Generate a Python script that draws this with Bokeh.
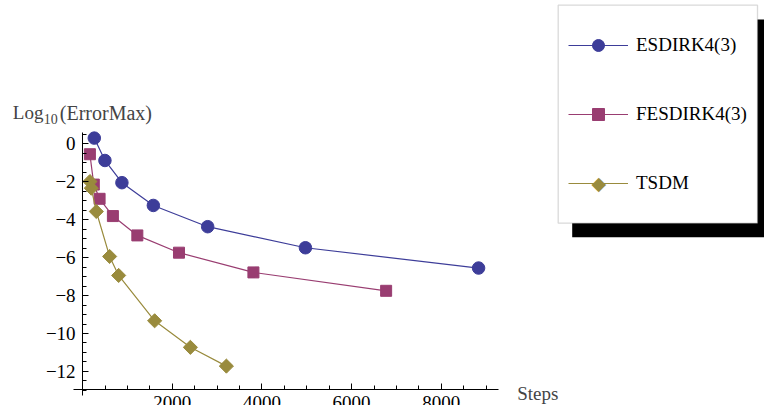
from bokeh.plotting import figure
from bokeh.models import (Range1d, LinearAxis, Legend, LegendItem, Label, BoxAnnotation,
                          FixedTicker, CustomJSTickFormatter)
from bokeh.embed import file_html
from bokeh.resources import INLINE

# Work (steps) versus log10 of the maximum error for three integrators
esdirk_steps = [261, 498, 877, 1578, 2790, 4970, 8832]
esdirk_err = [0.30, -0.88, -2.05, -3.25, -4.37, -5.48, -6.55]

fesdirk_steps = [163, 250, 379, 676, 1221, 2150, 3810, 6770]
fesdirk_err = [-0.55, -2.15, -2.90, -3.81, -4.83, -5.74, -6.78, -7.75]

tsdm_steps = [163, 194, 306, 603, 804, 1607, 2404, 3207]
tsdm_err = [-1.99, -2.34, -3.57, -5.94, -6.94, -9.33, -10.73, -11.72]

x_major = [2000, 4000, 6000, 8000]
x_minor = list(range(500, 9500, 500))
y_major = [-12, -10, -8, -6, -4, -2, 0]
y_minor = [v / 2 for v in range(-26, 2)]

BLUE = "#3d3d99"
MAGENTA = "#993d71"
OLIVE = "#998b3d"
SERIF = "Liberation Serif"

# the frame fills the whole canvas; axes sit at fixed data positions
p = figure(width=764, height=405,
           x_range=Range1d(-1831, 15209), y_range=Range1d(-13.796, 7.554),
           x_axis_type=None, y_axis_type=None,
           min_border=0,
           toolbar_location=None, output_backend="svg",
           outline_line_color=None, background_fill_color="white")

minus_fmt = CustomJSTickFormatter(code="return tick < 0 ? '\\u2212' + (-tick) : String(tick)")


def style_axis(ax):
    ax.axis_line_color = "black"
    ax.axis_line_width = 1
    ax.major_tick_line_color = "black"
    ax.minor_tick_line_color = "black"
    ax.major_tick_in = 6
    ax.major_tick_out = 0
    ax.minor_tick_in = 4
    ax.minor_tick_out = 0
    ax.major_label_text_font = SERIF
    ax.major_label_text_font_size = "19px"
    ax.major_label_text_color = "black"


xaxis = LinearAxis(fixed_location=-12.97, bounds=(-196, 9283),
                   ticker=FixedTicker(ticks=x_major, minor_ticks=x_minor),
                   major_label_standoff=6)
style_axis(xaxis)
p.add_layout(xaxis, "below")

yaxis = LinearAxis(fixed_location=0, bounds=(-13.26, 0.61),
                   ticker=FixedTicker(ticks=y_major, minor_ticks=y_minor),
                   formatter=minus_fmt, major_label_standoff=7)
style_axis(yaxis)
p.add_layout(yaxis, "left")

# series
l1 = p.line(esdirk_steps, esdirk_err, line_color=BLUE, line_width=1.2)
m1 = p.scatter(esdirk_steps, esdirk_err, marker="circle", size=12.5,
               fill_color=BLUE, line_color=BLUE)

l2 = p.line(fesdirk_steps, fesdirk_err, line_color=MAGENTA, line_width=1.2)
m2 = p.scatter(fesdirk_steps, fesdirk_err, marker="square", size=11,
               fill_color=MAGENTA, line_color=MAGENTA)

l3 = p.line(tsdm_steps, tsdm_err, line_color=OLIVE, line_width=1.2)
m3 = p.scatter(tsdm_steps, tsdm_err, marker="square", angle=0.785398, size=10,
               fill_color=OLIVE, line_color=OLIVE)

# axis titles
p.add_layout(Label(x=12.3, y=112.3, x_units="canvas", y_units="canvas", text="Log",
                   text_font=SERIF, text_font_size="19px", text_baseline="alphabetic"))
p.add_layout(Label(x=43.3, y=118.0, x_units="canvas", y_units="canvas", text="10",
                   text_font=SERIF, text_font_size="14px", text_baseline="alphabetic"))
p.add_layout(Label(x=59.3, y=112.3, x_units="canvas", y_units="canvas", text="(ErrorMax)",
                   text_font=SERIF, text_font_size="20px", text_baseline="alphabetic"))
p.add_layout(Label(x=516.7, y=393.3, x_units="canvas", y_units="canvas", text="Steps",
                   text_font=SERIF, text_font_size="19px", text_baseline="alphabetic"))

# legend frame with drop shadow
p.add_layout(BoxAnnotation(left=571.7, right=770, top=19, bottom=236.7,
                           left_units="canvas", right_units="canvas",
                           top_units="canvas", bottom_units="canvas",
                           fill_color="black", fill_alpha=1, line_color=None))
p.add_layout(BoxAnnotation(left=557.7, right=757, top=4.7, bottom=222.7,
                           left_units="canvas", right_units="canvas",
                           top_units="canvas", bottom_units="canvas",
                           fill_color="white", fill_alpha=1,
                           line_color="#808080", line_width=1.3))

legend = Legend(items=[
    LegendItem(label="ESDIRK4(3)", renderers=[l1, m1]),
    LegendItem(label="FESDIRK4(3)", renderers=[l2, m2]),
    LegendItem(label="TSDM", renderers=[l3]),
], location=(558, 197), orientation="vertical",
    glyph_width=60, glyph_height=30, label_height=30, label_standoff=8,
    spacing=39, padding=10, margin=0,
    border_line_alpha=0, background_fill_alpha=0,
    label_text_font=SERIF, label_text_font_size="19px", label_text_color="black")
p.add_layout(legend)

# diamond key symbol drawn on the TSDM legend line
p.add_layout(Label(x=598.3, y=182.7, x_units="canvas", y_units="canvas", text="\u25c6",
                   text_font="DejaVu Sans", text_font_size="19px", text_color=OLIVE,
                   text_align="center", text_baseline="middle"))

open("out.html", "w").write(file_html(p, INLINE))
